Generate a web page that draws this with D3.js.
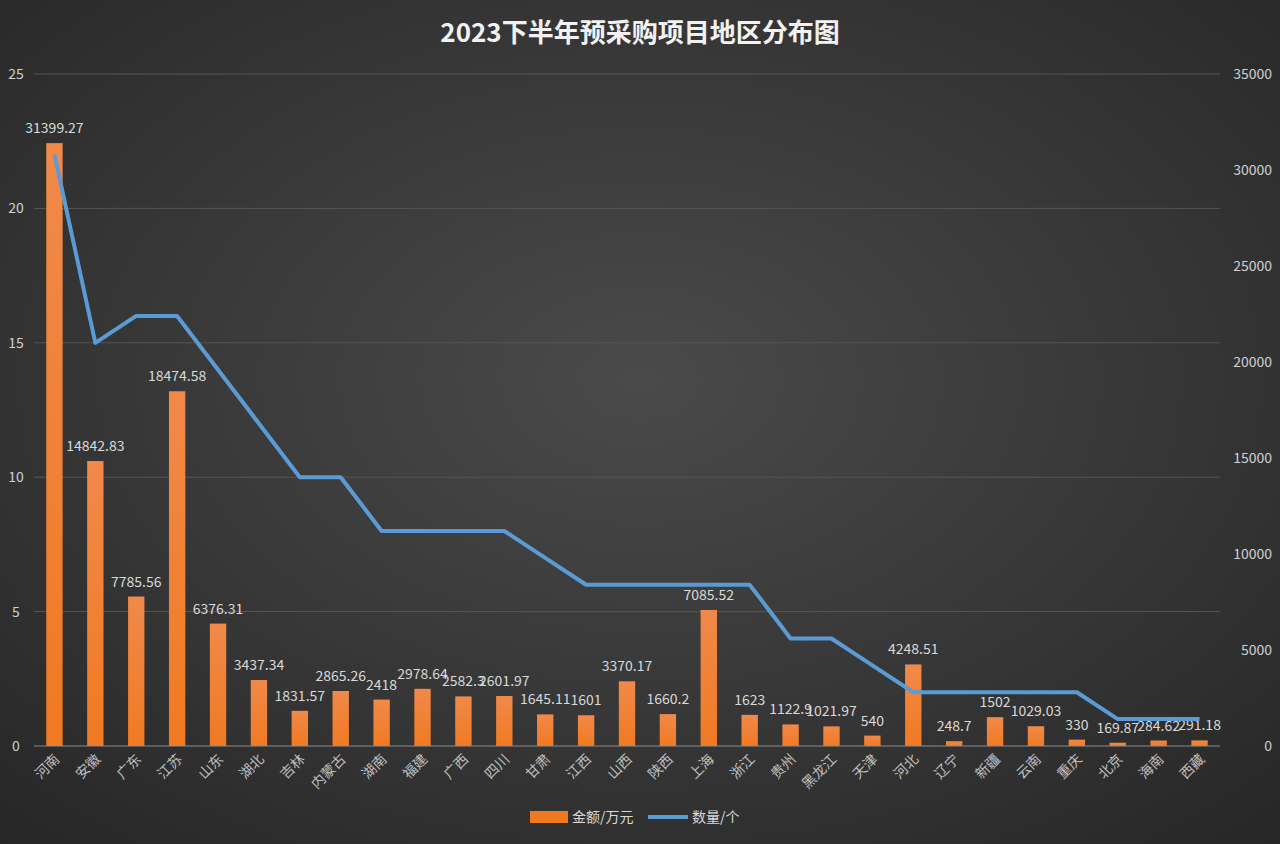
<!DOCTYPE html>
<html><head><meta charset="utf-8">
<script src="https://cdn.jsdelivr.net/npm/d3@7"></script>
<style>
body{margin:0;background:#333;}
text{font-family:"Noto Sans CJK SC","Noto Sans",sans-serif;}
</style></head><body>
<svg id="chart" width="1280" height="844"></svg>
<script>
const regions = ['河南','安徽','广东','江苏','山东','湖北','吉林','内蒙古','湖南','福建','广西','四川','甘肃','江西','山西','陕西','上海','浙江','贵州','黑龙江','天津','河北','辽宁','新疆','云南','重庆','北京','海南','西藏'];
const amounts = [31399.27,14842.83,7785.56,18474.58,6376.31,3437.34,1831.57,2865.26,2418,2978.64,2582.3,2601.97,1645.11,1601,3370.17,1660.2,7085.52,1623,1122.9,1021.97,540,4248.51,248.7,1502,1029.03,330,169.87,284.62,291.18];
const counts = [22,15,16,16,14,12,10,10,8,8,8,8,7,6,6,6,6,6,4,4,3,2,2,2,2,2,1,1,1];
const leftTicks = [0,5,10,15,20,25];
const rightTicks = [0,5000,10000,15000,20000,25000,30000,35000];

const svg = d3.select('#chart');
const defs = svg.append('defs');
const bg = defs.append('radialGradient').attr('id','bg').attr('cx','50%').attr('cy','45%').attr('r','75%');
bg.append('stop').attr('offset','0%').attr('stop-color','#4a4a4a');
bg.append('stop').attr('offset','100%').attr('stop-color','#262626');
const barGrad = defs.append('linearGradient').attr('id','bar').attr('x1',0).attr('x2',0).attr('y1',0).attr('y2',1);
barGrad.append('stop').attr('offset','0%').attr('stop-color','#f0894a');
barGrad.append('stop').attr('offset','100%').attr('stop-color','#f07a22');
svg.append('rect').attr('width',1280).attr('height',844).attr('fill','url(#bg)');

const plotTop = 74, plotBottom = 746;
const x = d3.scaleBand().domain(regions).range([34,1220]).paddingInner(0.6).paddingOuter(0.3);
const yL = d3.scaleLinear().domain([0,25]).range([plotBottom,plotTop]);
const yR = d3.scaleLinear().domain([0,35000]).range([plotBottom,plotTop]);

svg.append('text').attr('x',640).attr('y',42).attr('text-anchor','middle')
  .attr('fill','#f2f2f2').attr('font-size',26).attr('font-weight','bold').text('2023下半年预采购项目地区分布图');

svg.append('g').selectAll('line').data(leftTicks).join('line')
  .attr('x1',34).attr('x2',1220).attr('y1',d=>yL(d)).attr('y2',d=>yL(d))
  .attr('stroke',d=>d===0?'#8a8a8a':'#555').attr('stroke-width',1);

svg.append('g').selectAll('text').data(leftTicks).join('text')
  .attr('x',16).attr('y',d=>yL(d)+5).attr('text-anchor','middle')
  .attr('fill','#d0d0d0').attr('font-size',14).text(d=>d);
svg.append('g').selectAll('text').data(rightTicks).join('text')
  .attr('x',1272).attr('y',d=>yR(d)+5).attr('text-anchor','end')
  .attr('fill','#d0d0d0').attr('font-size',14).text(d=>d);

svg.append('g').selectAll('rect').data(regions).join('rect')
  .attr('x',d=>x(d)).attr('width',x.bandwidth())
  .attr('y',(d,i)=>yR(amounts[i])).attr('height',(d,i)=>plotBottom-yR(amounts[i]))
  .attr('fill','url(#bar)');

svg.append('g').selectAll('text').data(regions).join('text')
  .attr('x',d=>x(d)+x.bandwidth()/2).attr('y',(d,i)=>yR(amounts[i])-10)
  .attr('text-anchor','middle').attr('fill','#d9d9d9').attr('font-size',14)
  .text((d,i)=>amounts[i]);

const line = d3.line().x((d,i)=>x(regions[i])+x.bandwidth()/2).y(d=>yL(d));
svg.append('path').datum(counts).attr('d',line).attr('fill','none')
  .attr('stroke','#5b9bd5').attr('stroke-width',4).attr('stroke-linejoin','round');

svg.append('g').selectAll('text').data(regions).join('text')
  .attr('transform',d=>`translate(${x(d)+x.bandwidth()/2+6},${plotBottom+14}) rotate(-45)`)
  .attr('text-anchor','end').attr('fill','#bfbfbf').attr('font-size',14).text(d=>d);

const lg = svg.append('g').attr('transform','translate(530,817)');
lg.append('rect').attr('x',0).attr('y',-6).attr('width',38).attr('height',12).attr('fill','#f07a22');
lg.append('text').attr('x',42).attr('y',5).attr('fill','#d9d9d9').attr('font-size',14).text('金额/万元');
lg.append('line').attr('x1',118).attr('x2',158).attr('y1',0).attr('y2',0).attr('stroke','#5b9bd5').attr('stroke-width',4);
lg.append('text').attr('x',162).attr('y',5).attr('fill','#d9d9d9').attr('font-size',14).text('数量/个');
</script></body></html>
